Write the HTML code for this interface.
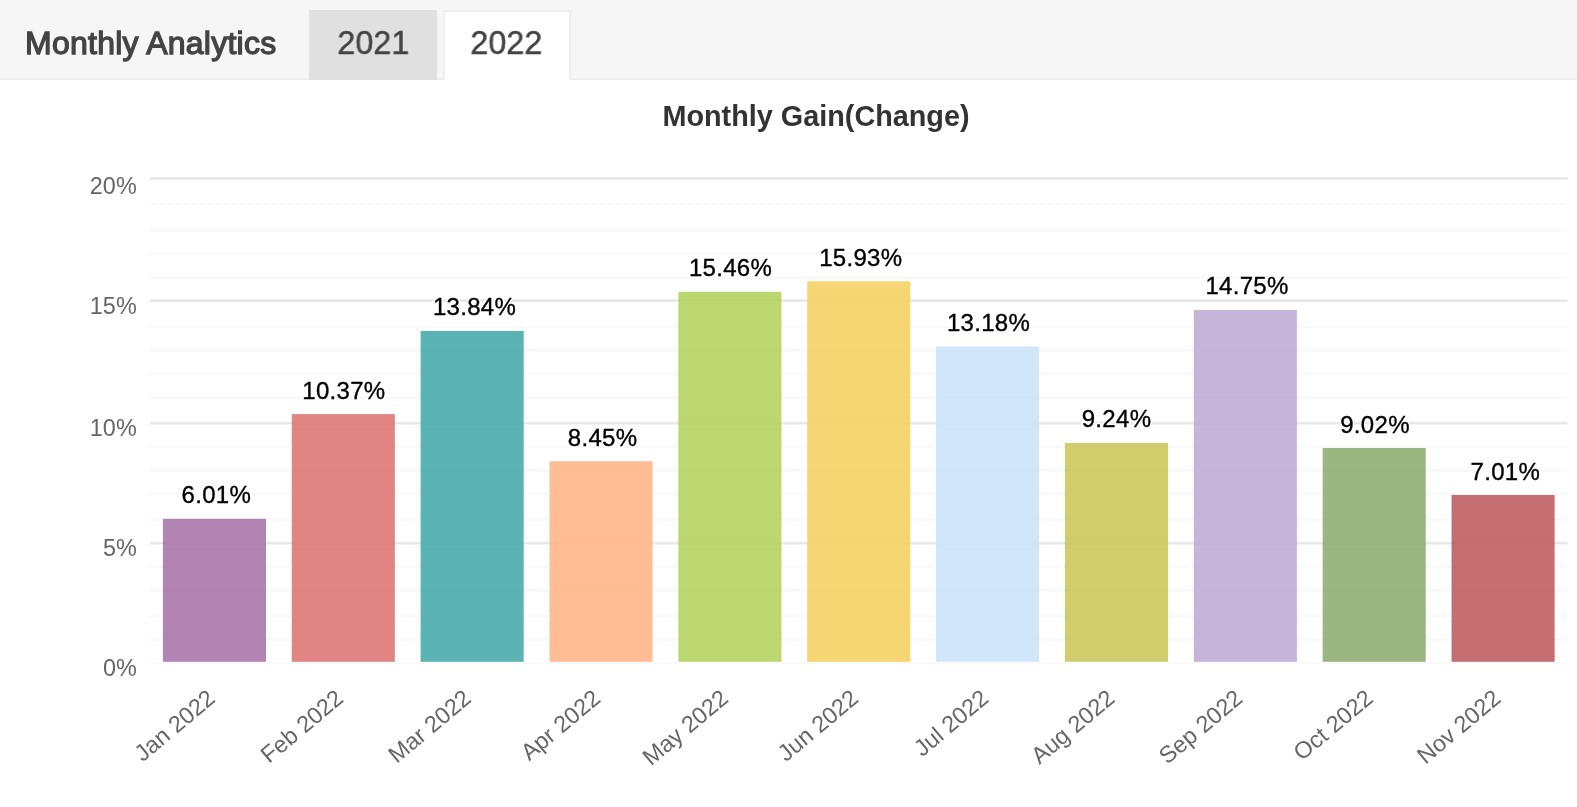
<!DOCTYPE html>
<html><head><meta charset="utf-8"><title>Monthly Analytics</title>
<style>
html,body{margin:0;padding:0;background:#fff;}
body{width:1577px;height:807px;overflow:hidden;position:relative;font-family:"Liberation Sans",sans-serif;}
#hdr{position:absolute;left:0;top:0;width:1577px;height:80px;background:#f6f6f6;box-sizing:border-box;border-bottom:2px solid #ededed;}
#ttl{position:absolute;left:25.2px;top:22.5px;font-size:32px;line-height:40px;font-weight:normal;color:#444;white-space:nowrap;-webkit-text-stroke:1.3px #444;letter-spacing:0.25px;}
.tab{position:absolute;box-sizing:border-box;font-size:33.5px;line-height:40px;color:#444;text-align:center;}
.tab span{display:inline-block;transform:scaleX(0.965);-webkit-text-stroke:0.45px #444;}
#t21{left:309px;top:10px;width:128px;height:70px;background:#e0e0e0;padding-top:13px;}
#t22{left:442.5px;top:10px;width:128px;height:71px;background:#fff;border:2px solid #efefef;border-bottom-color:#fff;padding-top:11px;}
svg{position:absolute;left:0;top:0;will-change:transform;}
#ttl,.tab span{will-change:transform;}
svg text{font-family:"Liberation Sans",sans-serif;}
</style></head><body>
<div id="hdr"></div>
<div id="ttl">Monthly Analytics</div>
<div class="tab" id="t21"><span>2021</span></div>
<div class="tab" id="t22"><span>2022</span></div>

<svg width="1577" height="807" viewBox="0 0 1577 807">
<text x="816" y="126.4" text-anchor="middle" font-size="28.8" font-weight="bold" fill="#333">Monthly Gain(Change)</text>
<g><line x1="150.0" x2="1567.5" y1="204.0" y2="204.0" stroke="#f3f3f3" stroke-width="2.2" stroke-dasharray="1 1"/><line x1="150.0" x2="1567.5" y1="253.8" y2="253.8" stroke="#f3f3f3" stroke-width="2.2" stroke-dasharray="1 1"/><line x1="150.0" x2="1567.5" y1="327.0" y2="327.0" stroke="#f3f3f3" stroke-width="2.2" stroke-dasharray="1 1"/><line x1="150.0" x2="1567.5" y1="373.8" y2="373.8" stroke="#f3f3f3" stroke-width="2.2" stroke-dasharray="1 1"/><line x1="150.0" x2="1567.5" y1="446.8" y2="446.8" stroke="#f3f3f3" stroke-width="2.2" stroke-dasharray="1 1"/><line x1="150.0" x2="1567.5" y1="493.8" y2="493.8" stroke="#f3f3f3" stroke-width="2.2" stroke-dasharray="1 1"/><line x1="150.0" x2="1567.5" y1="566.8" y2="566.8" stroke="#f3f3f3" stroke-width="2.2" stroke-dasharray="1 1"/><line x1="150.0" x2="1567.5" y1="616.2" y2="616.2" stroke="#f3f3f3" stroke-width="2.2" stroke-dasharray="1 1"/><line x1="150.0" x2="1567.5" y1="230.4" y2="230.4" stroke="#f8f8f8" stroke-width="2.6"/><line x1="150.0" x2="1567.5" y1="277.6" y2="277.6" stroke="#f8f8f8" stroke-width="2.6"/><line x1="150.0" x2="1567.5" y1="350.4" y2="350.4" stroke="#f8f8f8" stroke-width="2.6"/><line x1="150.0" x2="1567.5" y1="397.6" y2="397.6" stroke="#f8f8f8" stroke-width="2.6"/><line x1="150.0" x2="1567.5" y1="470.4" y2="470.4" stroke="#f8f8f8" stroke-width="2.6"/><line x1="150.0" x2="1567.5" y1="519.6" y2="519.6" stroke="#f8f8f8" stroke-width="2.6"/><line x1="150.0" x2="1567.5" y1="590.4" y2="590.4" stroke="#f8f8f8" stroke-width="2.6"/><line x1="150.0" x2="1567.5" y1="639.6" y2="639.6" stroke="#f8f8f8" stroke-width="2.6"/><line x1="150.0" x2="1567.5" y1="178.3" y2="178.3" stroke="#e9e9e9" stroke-width="2.8"/><line x1="150.0" x2="1567.5" y1="300.6" y2="300.6" stroke="#e9e9e9" stroke-width="2.8"/><line x1="150.0" x2="1567.5" y1="423.2" y2="423.2" stroke="#e9e9e9" stroke-width="2.8"/><line x1="150.0" x2="1567.5" y1="543.2" y2="543.2" stroke="#e9e9e9" stroke-width="2.8"/><line x1="150.0" x2="1567.5" y1="663.0" y2="663.0" stroke="#f8f8f8" stroke-width="1.4"/></g>
<text x="136.7" y="193.7" text-anchor="end" font-size="23.4" fill="#666">20%</text>
<text x="136.7" y="313.8" text-anchor="end" font-size="23.4" fill="#666">15%</text>
<text x="136.7" y="435.7" text-anchor="end" font-size="23.4" fill="#666">10%</text>
<text x="136.7" y="555.7" text-anchor="end" font-size="23.4" fill="#666">5%</text>
<text x="136.7" y="675.6" text-anchor="end" font-size="23.4" fill="#666">0%</text>
<rect x="162.89" y="518.80" width="103.09" height="143.00" fill="#a46fa6" fill-opacity="0.85"/>
<text x="216.4" y="503.0" text-anchor="middle" font-size="24" letter-spacing="0.3" fill="#fff" stroke="#fff" stroke-width="3.2" stroke-linejoin="round">6.01%</text>
<text x="216.4" y="503.0" text-anchor="middle" font-size="24" letter-spacing="0.3" fill="#000" stroke="#000" stroke-width="0.35">6.01%</text>
<text transform="translate(212.4 695.6) rotate(-40.0)" x="0" y="6.5" text-anchor="end" font-size="23.4" fill="#666">Jan 2022</text>
<rect x="291.75" y="414.10" width="103.09" height="247.70" fill="#db6f6f" fill-opacity="0.85"/>
<text x="343.9" y="398.9" text-anchor="middle" font-size="24" letter-spacing="0.3" fill="#fff" stroke="#fff" stroke-width="3.2" stroke-linejoin="round">10.37%</text>
<text x="343.9" y="398.9" text-anchor="middle" font-size="24" letter-spacing="0.3" fill="#000" stroke="#000" stroke-width="0.35">10.37%</text>
<text transform="translate(340.6 695.6) rotate(-40.0)" x="0" y="6.5" text-anchor="end" font-size="23.4" fill="#666">Feb 2022</text>
<rect x="420.61" y="330.90" width="103.09" height="330.90" fill="#3fa6a6" fill-opacity="0.85"/>
<text x="474.5" y="315.0" text-anchor="middle" font-size="24" letter-spacing="0.3" fill="#fff" stroke="#fff" stroke-width="3.2" stroke-linejoin="round">13.84%</text>
<text x="474.5" y="315.0" text-anchor="middle" font-size="24" letter-spacing="0.3" fill="#000" stroke="#000" stroke-width="0.35">13.84%</text>
<text transform="translate(468.4 695.6) rotate(-40.0)" x="0" y="6.5" text-anchor="end" font-size="23.4" fill="#666">Mar 2022</text>
<rect x="549.48" y="461.20" width="103.09" height="200.60" fill="#ffb082" fill-opacity="0.85"/>
<text x="602.6" y="446.0" text-anchor="middle" font-size="24" letter-spacing="0.3" fill="#fff" stroke="#fff" stroke-width="3.2" stroke-linejoin="round">8.45%</text>
<text x="602.6" y="446.0" text-anchor="middle" font-size="24" letter-spacing="0.3" fill="#000" stroke="#000" stroke-width="0.35">8.45%</text>
<text transform="translate(597.7 695.6) rotate(-40.0)" x="0" y="6.5" text-anchor="end" font-size="23.4" fill="#666">Apr 2022</text>
<rect x="678.34" y="291.80" width="103.09" height="370.00" fill="#b1d057" fill-opacity="0.85"/>
<text x="730.5" y="276.2" text-anchor="middle" font-size="24" letter-spacing="0.3" fill="#fff" stroke="#fff" stroke-width="3.2" stroke-linejoin="round">15.46%</text>
<text x="730.5" y="276.2" text-anchor="middle" font-size="24" letter-spacing="0.3" fill="#000" stroke="#000" stroke-width="0.35">15.46%</text>
<text transform="translate(725.5 695.6) rotate(-40.0)" x="0" y="6.5" text-anchor="end" font-size="23.4" fill="#666">May 2022</text>
<rect x="807.20" y="281.25" width="103.09" height="380.55" fill="#f4cf5b" fill-opacity="0.85"/>
<text x="860.8" y="266.0" text-anchor="middle" font-size="24" letter-spacing="0.3" fill="#fff" stroke="#fff" stroke-width="3.2" stroke-linejoin="round">15.93%</text>
<text x="860.8" y="266.0" text-anchor="middle" font-size="24" letter-spacing="0.3" fill="#000" stroke="#000" stroke-width="0.35">15.93%</text>
<text transform="translate(855.6 695.6) rotate(-40.0)" x="0" y="6.5" text-anchor="end" font-size="23.4" fill="#666">Jun 2022</text>
<rect x="936.07" y="346.40" width="103.09" height="315.40" fill="#cae2f9" fill-opacity="0.85"/>
<text x="988.5" y="331.2" text-anchor="middle" font-size="24" letter-spacing="0.3" fill="#fff" stroke="#fff" stroke-width="3.2" stroke-linejoin="round">13.18%</text>
<text x="988.5" y="331.2" text-anchor="middle" font-size="24" letter-spacing="0.3" fill="#000" stroke="#000" stroke-width="0.35">13.18%</text>
<text transform="translate(985.8 695.6) rotate(-40.0)" x="0" y="6.5" text-anchor="end" font-size="23.4" fill="#666">Jul 2022</text>
<rect x="1064.93" y="443.00" width="103.09" height="218.80" fill="#c9c352" fill-opacity="0.85"/>
<text x="1116.5" y="427.0" text-anchor="middle" font-size="24" letter-spacing="0.3" fill="#fff" stroke="#fff" stroke-width="3.2" stroke-linejoin="round">9.24%</text>
<text x="1116.5" y="427.0" text-anchor="middle" font-size="24" letter-spacing="0.3" fill="#000" stroke="#000" stroke-width="0.35">9.24%</text>
<text transform="translate(1112.0 695.6) rotate(-40.0)" x="0" y="6.5" text-anchor="end" font-size="23.4" fill="#666">Aug 2022</text>
<rect x="1193.80" y="309.90" width="103.09" height="351.90" fill="#bba8d2" fill-opacity="0.85"/>
<text x="1247.0" y="294.3" text-anchor="middle" font-size="24" letter-spacing="0.3" fill="#fff" stroke="#fff" stroke-width="3.2" stroke-linejoin="round">14.75%</text>
<text x="1247.0" y="294.3" text-anchor="middle" font-size="24" letter-spacing="0.3" fill="#000" stroke="#000" stroke-width="0.35">14.75%</text>
<text transform="translate(1239.9 695.6) rotate(-40.0)" x="0" y="6.5" text-anchor="end" font-size="23.4" fill="#666">Sep 2022</text>
<rect x="1322.66" y="448.00" width="103.09" height="213.80" fill="#89a96b" fill-opacity="0.85"/>
<text x="1375.0" y="433.0" text-anchor="middle" font-size="24" letter-spacing="0.3" fill="#fff" stroke="#fff" stroke-width="3.2" stroke-linejoin="round">9.02%</text>
<text x="1375.0" y="433.0" text-anchor="middle" font-size="24" letter-spacing="0.3" fill="#000" stroke="#000" stroke-width="0.35">9.02%</text>
<text transform="translate(1370.3 695.6) rotate(-40.0)" x="0" y="6.5" text-anchor="end" font-size="23.4" fill="#666">Oct 2022</text>
<rect x="1451.52" y="495.00" width="103.09" height="166.80" fill="#bb565a" fill-opacity="0.85"/>
<text x="1505.3" y="480.1" text-anchor="middle" font-size="24" letter-spacing="0.3" fill="#fff" stroke="#fff" stroke-width="3.2" stroke-linejoin="round">7.01%</text>
<text x="1505.3" y="480.1" text-anchor="middle" font-size="24" letter-spacing="0.3" fill="#000" stroke="#000" stroke-width="0.35">7.01%</text>
<text transform="translate(1498.0 695.6) rotate(-40.0)" x="0" y="6.5" text-anchor="end" font-size="23.4" fill="#666">Nov 2022</text>
</svg></body></html>
